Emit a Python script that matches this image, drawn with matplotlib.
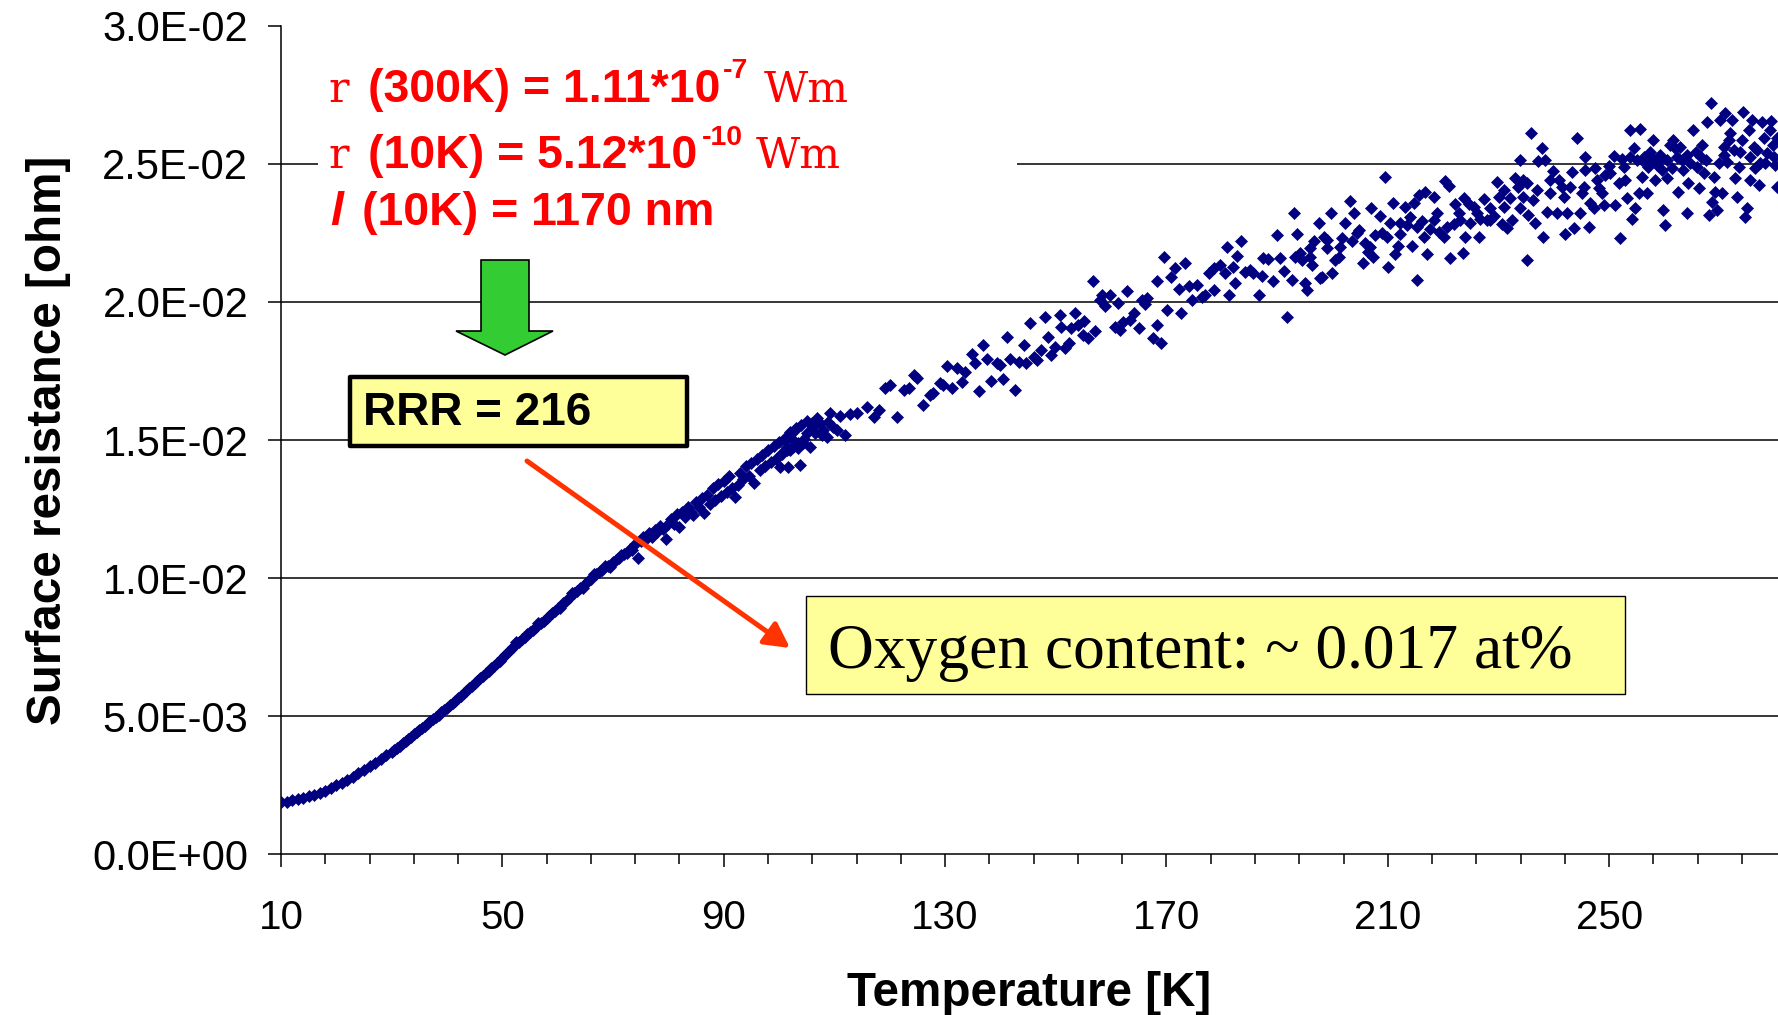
import matplotlib
matplotlib.use("Agg")
import matplotlib.pyplot as plt
import numpy as np
from matplotlib.patches import Polygon, Rectangle, FancyArrowPatch
from matplotlib.ticker import FixedLocator, FuncFormatter

plt.rcParams['font.family'] = ['Liberation Sans', 'DejaVu Sans']

# ---------------- data ----------------
# low-temperature part of the curve (tight band)
temp_band = [10, 11, 12, 13, 14, 15, 16, 17, 18, 19, 20, 21, 22, 23, 24, 25, 26, 27, 28, 29, 30,
             30.5, 31, 31.5, 32, 32.5, 33, 33.5, 34, 34.5, 35, 35.5, 36, 36.5, 37, 37.5, 38, 38.5, 39, 39.5, 40,
             40.5, 41, 41.5, 42, 42.5, 43, 43.5, 44, 44.5, 45, 45.5, 46, 46.5, 47, 47.5, 48, 48.5, 49, 49.5, 50,
             50.5, 51, 51.5, 52, 52.5, 53, 53.5, 54, 54.5, 55, 55.5, 56, 56.5, 57, 57.5, 58, 58.5, 59, 59.5, 60,
             60.5, 61, 61.5, 62, 62.5, 63, 63.5, 64, 64.5, 65, 65.5, 66, 66.5, 67, 67.5, 68, 68.5, 69, 69.5, 70,
             70.5, 71, 71.5, 72, 72.5, 73, 73.5, 74, 74.5, 75, 75.5, 76, 76.5, 77, 77.5, 78, 78.5, 79, 79.5, 80,
             80.5, 81, 81.5, 82, 82.5, 83, 83.5, 84, 84.5, 85, 85.5, 86, 86.5, 87, 87.5, 88, 88.5, 89, 89.5, 90,
             90.5, 91, 91.5, 92, 92.5, 93, 93.5, 94, 94.5, 95, 95.5, 96, 96.5, 97, 97.5, 98, 98.5, 99, 99.5, 100,
             100.5, 101, 101.5, 102, 102.5, 103, 103.5, 104, 104.5, 105]
res_band = [0.00187, 0.00190, 0.00194, 0.00199, 0.00204, 0.00209, 0.00215, 0.00222, 0.00230, 0.00239,
            0.00249, 0.00259, 0.00269, 0.00280, 0.00292, 0.00305, 0.00318, 0.00331, 0.00344, 0.00357, 0.00370,
            0.00377, 0.00385, 0.00393, 0.00401, 0.00409, 0.00417, 0.00425, 0.00433, 0.00441, 0.00449,
            0.00457, 0.00465, 0.00473, 0.00481, 0.00489, 0.00497, 0.00505, 0.00513, 0.00521, 0.00530,
            0.00539, 0.00547, 0.00556, 0.00565, 0.00573, 0.00582, 0.00591, 0.00600, 0.00609, 0.00619,
            0.00628, 0.00637, 0.00646, 0.00655, 0.00664, 0.00673, 0.00682, 0.00691, 0.00701, 0.00711,
            0.00721, 0.00731, 0.00741, 0.00751, 0.00768, 0.00769, 0.00778, 0.00787, 0.00796, 0.00805,
            0.00813, 0.00821, 0.00838, 0.00837, 0.00845, 0.00854, 0.00863, 0.00872, 0.00881, 0.00890,
            0.00890, 0.00908, 0.00917, 0.00926, 0.00945, 0.00944, 0.00953, 0.00962, 0.00962, 0.00980,
            0.00989, 0.00998, 0.01016, 0.01015, 0.01022, 0.01029, 0.01045, 0.01043, 0.01040, 0.01057,
            0.01066, 0.01072, 0.01082, 0.01086, 0.01092, 0.01104, 0.01100, 0.01122, 0.01071, 0.01135,
            0.01150, 0.01142, 0.01162, 0.01150, 0.01175, 0.01165, 0.01190, 0.01176, 0.01143, 0.01195,
            0.01215, 0.01196, 0.01232, 0.01186, 0.01240, 0.01222, 0.01258, 0.01238, 0.01228, 0.01275,
            0.01256, 0.01290, 0.01234, 0.01300, 0.01268, 0.01325, 0.01284, 0.01340, 0.01296, 0.01352,
            0.01312, 0.01368, 0.01326, 0.01294, 0.01338, 0.01382, 0.01360, 0.01405, 0.01368, 0.01418,
            0.01343, 0.01432, 0.01392, 0.01446, 0.01405, 0.01462, 0.01420, 0.01478, 0.01432, 0.01494,
            0.01448, 0.01508, 0.01462, 0.01528, 0.01476, 0.01542, 0.01490, 0.01556, 0.01505, 0.01570]

# dense cluster just above 100 K
temp_knee = [100.5, 101.1, 102.0, 102.6, 103.5, 104.4, 105.0, 105.9, 106.5, 107.4, 107.7, 108.9, 109.8, 100.2]
res_knee = [0.01452, 0.01500, 0.01464, 0.01500, 0.01470, 0.01488, 0.01524, 0.01560, 0.01524, 0.01560,
            0.01518, 0.01566, 0.01548, 0.01403]

# scattered readings, 100 K - 192 K
temp_mid = [101.4, 103.8, 101.7, 102.9, 105.6, 106.2, 106.8, 108.0, 109.2, 108.6,
            110.4, 111.9, 111.0, 112.8, 114.0, 115.9, 117.1, 118.0, 119.2, 120.1,
            121.3, 122.5, 123.4, 124.3, 124.9, 126.0, 127.3, 127.9, 129.1, 129.7,
            130.3, 131.2, 132.1, 133.0, 133.6, 134.8, 135.4, 136.2, 136.9, 137.5,
            138.3, 139.3, 139.9, 140.4, 141.2, 141.8, 142.7, 143.3, 144.2, 144.6,
            145.4, 146.0, 146.6, 147.4, 148.1, 148.6, 149.1, 149.9, 150.7, 151.0,
            151.7, 152.3, 152.8, 153.5, 154.1, 155.1, 155.0, 155.9, 156.7, 157.0,
            158.0, 158.3, 158.9, 159.8, 160.7, 161.2, 161.6, 162.2, 162.8, 163.4,
            164.2, 165.1, 165.6, 166.5, 166.2, 167.5, 168.3, 168.3, 169.0, 169.6,
            170.1, 170.8, 171.6, 172.2, 172.7, 173.4, 174.0, 174.6, 175.5, 176.4,
            177.0, 177.6, 178.5, 178.5, 179.7, 180.6, 180.9, 181.3, 182.1, 182.4,
            182.8, 183.5, 184.2, 185.1, 185.7, 186.8, 187.2, 187.5, 188.4, 189.2,
            189.9, 190.5, 191.2, 191.8]
res_mid = [0.01476, 0.01409, 0.01403, 0.01536, 0.01476, 0.01548, 0.01579, 0.01536, 0.01597, 0.01512,
           0.01536, 0.01518, 0.01587, 0.01593, 0.01597, 0.01621, 0.01585, 0.01609, 0.01687, 0.01699,
           0.01585, 0.01681, 0.01687, 0.01735, 0.01723, 0.01627, 0.01663, 0.01669, 0.01708, 0.01699,
           0.01768, 0.01687, 0.01760, 0.01711, 0.01748, 0.01812, 0.01778, 0.01679, 0.01844, 0.01792,
           0.01715, 0.01778, 0.01772, 0.01721, 0.01874, 0.01792, 0.01681, 0.01784, 0.01844, 0.01778,
           0.01925, 0.01802, 0.01790, 0.01826, 0.01947, 0.01874, 0.01808, 0.01838, 0.01953, 0.01911,
           0.01832, 0.01850, 0.01905, 0.01961, 0.01917, 0.01932, 0.01880, 0.01868, 0.02077, 0.01895,
           0.02007, 0.02025, 0.01985, 0.02025, 0.01911, 0.01998, 0.01899, 0.01929, 0.02041, 0.01935,
           0.01961, 0.01905, 0.02007, 0.02013, 0.01993, 0.01868, 0.01917, 0.02077, 0.01853, 0.02164,
           0.01971, 0.02092, 0.02122, 0.02046, 0.01959, 0.02143, 0.02058, 0.02007, 0.02062, 0.02019,
           0.02025, 0.02106, 0.02122, 0.02043, 0.02134, 0.02106, 0.02200, 0.02025, 0.02128, 0.02070,
           0.02167, 0.02222, 0.02110, 0.02116, 0.02104, 0.02025, 0.02094, 0.02158, 0.02155, 0.02077,
           0.02243, 0.02158, 0.02113, 0.01947]

# scattered readings, 192 K - 281 K
temp_high = [193.0, 193.6, 192.7, 193.3, 194.5, 195.1, 195.4, 196.0, 196.3, 196.6,
             197.5, 197.8, 198.1, 198.4, 199.0, 199.9, 199.8, 200.5, 201.1, 201.7,
             202.3, 203.1, 203.5, 203.8, 204.7, 205.5, 205.9, 206.5, 207.0, 207.4,
             207.7, 208.5, 208.9, 209.5, 210.0, 210.4, 211.0, 211.3, 211.8, 212.2,
             213.1, 213.5, 214.0, 214.4, 214.8, 215.3, 215.6, 216.2, 216.5, 216.8,
             217.1, 217.7, 218.4, 218.9, 219.2, 220.1, 220.4, 221.0, 221.3, 221.9,
             222.2, 222.8, 223.6, 223.8, 224.0, 224.6, 224.9, 225.5, 226.4, 226.7,
             227.3, 227.9, 228.5, 229.1, 229.7, 230.0, 230.6, 230.9, 231.5, 232.1,
             232.4, 233.0, 233.6, 233.9, 233.9, 234.5, 235.1, 235.2, 235.4, 235.9,
             236.2, 236.6, 237.2, 237.8, 238.1, 238.4, 238.7, 239.3, 239.9, 240.6,
             240.9, 241.5, 242.1, 242.4, 243.0, 243.3, 243.6, 244.2, 244.8, 245.1,
             245.7, 245.7, 246.3, 246.6, 247.2, 247.5, 248.1, 248.7, 249.0, 249.3,
             249.9, 250.8, 251.1, 251.7, 252.0, 252.3, 252.9, 253.2, 253.8, 254.1,
             254.4, 254.7, 255.0, 255.3, 255.6, 255.9, 256.5, 256.8, 257.4, 258.0,
             258.3, 258.9, 259.5, 259.8, 260.1, 260.4, 261.0, 261.6, 262.2, 262.5,
             262.8, 263.4, 264.0, 264.3, 264.6, 265.1, 265.6, 266.2, 266.8, 267.4,
             267.7, 268.0, 268.4, 268.6, 268.9, 269.2, 269.5, 270.1, 270.4, 270.7,
             271.0, 271.3, 271.9, 272.2, 272.8, 273.1, 273.7, 274.2, 274.6, 274.9,
             275.2, 275.5, 275.8, 276.1, 276.4, 277.0, 277.3, 277.6, 277.9, 278.5,
             279.1, 279.2, 279.6, 280.0, 280.3]
res_high = [0.02324, 0.02246, 0.02080, 0.02164, 0.02152, 0.02068, 0.02043, 0.02194, 0.02134, 0.02222,
            0.02287, 0.02086, 0.02092, 0.02237, 0.02194, 0.02106, 0.02324, 0.02152, 0.02164, 0.02231,
            0.02287, 0.02367, 0.02222, 0.02324, 0.02261, 0.02142, 0.02215, 0.02182, 0.02339, 0.02164,
            0.02243, 0.02312, 0.02251, 0.02454, 0.02128, 0.02287, 0.02360, 0.02174, 0.02203, 0.02246,
            0.02345, 0.02279, 0.02309, 0.02203, 0.02360, 0.02080, 0.02388, 0.02295, 0.02237, 0.02400,
            0.02174, 0.02263, 0.02382, 0.02324, 0.02255, 0.02237, 0.02440, 0.02420, 0.02158, 0.02283,
            0.02355, 0.02321, 0.02179, 0.02376, 0.02237, 0.02355, 0.02285, 0.02345, 0.02237, 0.02299,
            0.02372, 0.02297, 0.02339, 0.02312, 0.02436, 0.02382, 0.02283, 0.02406, 0.02267, 0.02376,
            0.02297, 0.02448, 0.02415, 0.02339, 0.02514, 0.02382, 0.02430, 0.02152, 0.02315, 0.02613,
            0.02369, 0.02285, 0.02512, 0.02557, 0.02237, 0.02514, 0.02327, 0.02394, 0.02476, 0.02324,
            0.02442, 0.02418, 0.02246, 0.02321, 0.02418, 0.02472, 0.02267, 0.02593, 0.02321, 0.02394,
            0.02526, 0.02478, 0.02273, 0.02357, 0.02339, 0.02484, 0.02412, 0.02394, 0.02351, 0.02460,
            0.02493, 0.02529, 0.02351, 0.02430, 0.02231, 0.02517, 0.02442, 0.02376, 0.02623, 0.02299,
            0.02557, 0.02339, 0.02514, 0.02394, 0.02626, 0.02454, 0.02502, 0.02394, 0.02545, 0.02587,
            0.02442, 0.02508, 0.02478, 0.02333, 0.02279, 0.02448, 0.02569, 0.02587, 0.02526, 0.02400,
            0.02563, 0.02478, 0.02324, 0.02430, 0.02502, 0.02623, 0.02545, 0.02412, 0.02569, 0.02514,
            0.02653, 0.02315, 0.02722, 0.02363, 0.02454, 0.02400, 0.02333, 0.02659, 0.02394, 0.02563,
            0.02683, 0.02508, 0.02611, 0.02659, 0.02448, 0.02382, 0.02545, 0.02690, 0.02309, 0.02339,
            0.02623, 0.02442, 0.02659, 0.02563, 0.02484, 0.02424, 0.02502, 0.02653, 0.02593, 0.02539,
            0.02623, 0.02657, 0.02569, 0.02496, 0.02418]

# crowded core of the high-temperature cloud
temp_core = [256.2, 257.1, 257.7, 258.6, 259.2, 260.4, 261.3, 261.9, 263.1, 264.0,
             265.9, 266.5, 267.1, 269.8, 270.7, 271.6, 272.5, 273.4, 274.0, 275.5,
             276.7, 278.2, 279.7, 280.3, 252.6, 253.8, 250.2, 247.8, 245.4, 241.8,
             239.3, 237.0, 234.5, 230.9, 228.5, 226.1, 223.1, 220.7, 218.3, 215.3,
             212.2, 209.8, 206.8, 204.4, 201.4, 199.0, 196.0, 194.2]
res_core = [0.02526, 0.02490, 0.02520, 0.02496, 0.02532, 0.02514, 0.02484, 0.02557, 0.02514, 0.02532,
            0.02490, 0.02526, 0.02466, 0.02502, 0.02532, 0.02587, 0.02551, 0.02490, 0.02587, 0.02526,
            0.02551, 0.02502, 0.02526, 0.02593, 0.02490, 0.02526, 0.02466, 0.02442, 0.02418, 0.02382,
            0.02442, 0.02406, 0.02442, 0.02345, 0.02297, 0.02321, 0.02297, 0.02273, 0.02297, 0.02273,
            0.02285, 0.02237, 0.02201, 0.02249, 0.02201, 0.02225, 0.02164, 0.02176]

x_major_ticks = [10, 50, 90, 130, 170, 210, 250]
y_ticks = [0.0, 0.005, 0.010, 0.015, 0.020, 0.025, 0.030]

# ---------------- figure ----------------
W, H = 1778, 1015
fig = plt.figure(figsize=(W / 100, H / 100), dpi=100)
ax = fig.add_axes([281 / W, 1 - 854 / H, (W - 281) / W, (854 - 26) / H])

temps = temp_band + temp_knee + temp_mid + temp_high + temp_core
res = res_band + res_knee + res_mid + res_high + res_core
ax.plot(temps, res, linestyle='none', marker='D', markersize=5.8,
        color='#000080', markeredgewidth=0.5, zorder=3)

ax.set_xlim(10, 280.5)
ax.set_ylim(0, 0.030)

for y in y_ticks[1:-1]:
    ax.axhline(y, color='black', linewidth=1.1, zorder=1)

for side in ('top', 'right'):
    ax.spines[side].set_visible(False)
for side in ('left', 'bottom'):
    ax.spines[side].set_linewidth(1.1)
    ax.spines[side].set_color('black')

ax.set_xticks(x_major_ticks)
ax.xaxis.set_minor_locator(FixedLocator(list(range(10, 281, 8))))
ax.set_yticks(y_ticks)
ax.yaxis.set_major_formatter(FuncFormatter(lambda v, p: f"{v:.1E}"))

ax.tick_params(axis='x', which='major', direction='out', length=9.5, width=1.1,
               pad=23, labelsize=29)
ax.tick_params(axis='x', which='minor', direction='out', length=7, width=1.1)
ax.tick_params(axis='y', which='major', direction='out', length=9.5, width=1.1,
               pad=14, labelsize=30)

ax.set_xlabel('Temperature [K]', fontsize=34.3, fontweight='bold')
ax.xaxis.set_label_coords(0.5, -(971 - 854) / 828)
ax.set_ylabel('Surface resistance [ohm]', fontsize=34.3, fontweight='bold')
ax.yaxis.set_label_coords(-(281 - 71) / 1497, 0.5)

# ---------------- annotations (pixel layout helpers) ----------------
renderer = fig.canvas.get_renderer()


def fx(px):
    return px / W


def fy(py):
    return 1 - py / H


def place(px, py, s, **kw):
    return fig.text(fx(px), fy(py), s, ha='left', va='baseline', zorder=6, **kw)


def right_edge(t):
    return t.get_window_extent(renderer).x1


# white text panel behind the resistivity lines
fig.add_artist(Rectangle((fx(318), fy(250)), (1017 - 318) / W, 210 / H,
                         transform=fig.transFigure, facecolor='white',
                         edgecolor='none', zorder=2))

red = '#FF0000'
serif = dict(family='DejaVu Serif', fontsize=31, color=red)
bold = dict(family='Liberation Sans', fontweight='bold', fontsize=33.5, color=red)
sup = dict(family='Liberation Sans', fontweight='bold', fontsize=20.5, color=red)

# line 1
place(328, 102, 'r', **serif)
t = place(368, 102, '(300K) = 1.11*10', **bold)
t = place(right_edge(t) + 3, 78, '-7', **sup)
place(right_edge(t) + 15, 102, 'Wm', **serif)

# line 2
place(328, 168, 'r', **serif)
t = place(368, 168, '(10K) = 5.12*10', **bold)
t = place(right_edge(t) + 5, 145, '-10', **sup)
place(right_edge(t) + 12, 168, 'Wm', **serif)

# line 3
place(330, 225, 'l', family='Liberation Sans', fontweight='bold', style='italic',
      fontsize=33.5, color=red)
place(362, 225, '(10K) = 1170 nm', **bold)

# green down arrow
arrow_px = [(481, 260), (529, 260), (529, 331), (553, 331), (505, 355), (456, 331), (481, 331)]
fig.add_artist(Polygon([(fx(x), fy(y)) for x, y in arrow_px], closed=True,
                       transform=fig.transFigure, facecolor='#33CC33',
                       edgecolor='black', linewidth=1.2, zorder=4))

# RRR box
fig.add_artist(Rectangle((fx(350), fy(446)), (687 - 350) / W, (446 - 377) / H,
                         transform=fig.transFigure, facecolor='#FFFF99',
                         edgecolor='black', linewidth=3.2, joinstyle='round', zorder=4))
place(363, 425, 'RRR = 216', family='Liberation Sans', fontweight='bold',
      fontsize=33, color='black')

# red arrow
fig.add_artist(FancyArrowPatch((fx(527), fy(461)), (fx(790), fy(648)),
                               transform=fig.transFigure,
                               arrowstyle='-|>,head_length=1.5,head_width=0.8',
                               mutation_scale=10, linewidth=3.6, color='#FF3300',
                               shrinkA=0, shrinkB=0, zorder=5))

# oxygen box
fig.add_artist(Rectangle((fx(806), fy(694)), (1625 - 806) / W, (694 - 596) / H,
                         transform=fig.transFigure, facecolor='#FFFF99',
                         edgecolor='black', linewidth=1.0, zorder=4))
place(828, 668, 'Oxygen content: ~ 0.017 at%', family='Liberation Serif',
      fontsize=45.7, color='black')

fig.savefig('out.png', dpi=100)
